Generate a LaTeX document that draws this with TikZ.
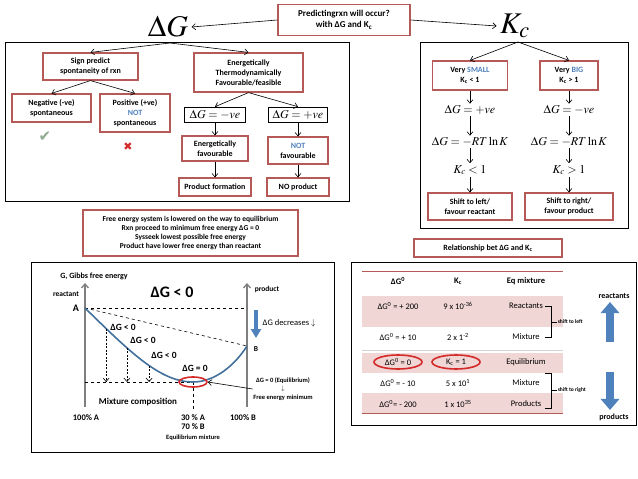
\documentclass[tikz,border=0pt]{standalone}
\usepackage{mathptmx}
\usepackage{fontspec}
\setmainfont{Carlito}
\newfontfamily\symbolfont{DejaVu Sans}
\usetikzlibrary{arrows.meta, shapes.geometric}
\definecolor{cbord}{HTML}{B65A57}
\definecolor{cpink}{HTML}{F0D6D5}
\definecolor{cblue}{HTML}{4F81BD}
\definecolor{cdarkblue}{HTML}{41719C}
\definecolor{cgrey}{HTML}{7F7F7F}
\definecolor{ctick}{HTML}{8FAA8F}
\definecolor{cred}{HTML}{D42A2A}
\newcommand{\fsz}[2]{\fontsize{#1}{#2}\selectfont}
\tikzset{
  every picture/.style={line width=0.6pt},
  box/.style={draw=cbord, fill=white, line width=1.2pt, align=center, inner sep=1pt, font=\bfseries\fsz{8}{10}},
  mbox/.style={draw=black, line width=0.6pt, inner sep=1pt, font=\fsz{12}{12}},
  mtext/.style={inner sep=1.5pt, font=\fsz{12}{12}},
  frame/.style={draw=black, line width=0.8pt},
  arrow/.style={-{Straight Barb[length=3.5pt, width=6pt]}, line width=0.6pt},
  dasharrow/.style={arrow, dash pattern=on 2pt off 1.5pt},
  axis/.style={draw=cgrey, line width=1.3pt, -{Straight Barb[length=4pt, width=7pt]}},
  note/.style={inner sep=0.5pt, align=center},
  cell/.style={inner sep=1pt, font=\fsz{8.5}{10}},
  ring/.style={ellipse, draw=cred, line width=1.6pt, inner sep=0pt},
  blockarrow/.style={draw=cblue, line width=#1, -{Triangle[width=0pt 2.3, length=0pt 1.4]}},
}

\begin{document}
\begin{tikzpicture}[x=1pt, y=-1pt]
  \fill[white] (0,0) rectangle (638,479);
  \useasboundingbox (0,0) rectangle (638,479);

  % top row
  \node[box, font=\bfseries\fsz{9}{11}, minimum width=132pt, minimum height=31pt] (pred) at (344,20) {Predictingrxn will occur?\\with ΔG and K\textsubscript{c}};
  \node[font=\fsz{30}{30}] (dg) at (168,27) {$\Delta G$};
  \node[font=\fsz{30}{30}] (kc) at (515,26) {$K_{c}$};
  \draw[arrow] (pred.west) -- (dg.east);
  \draw[arrow] (pred.east) -- (kc.west);

  % Delta G panel
  \draw[frame] (5,42) rectangle (349,201);
  \coordinate (lsplit) at (170,43);
  \node[box, minimum width=95pt, minimum height=27pt] (sign) at (90.5,66.5) {Sign predict\\spontaneity of rxn};
  \node[box, minimum width=109pt, minimum height=39pt] (energ) at (248.5,72.5) {Energetically\\Thermodynamically\\Favourable/feasible};
  \node[box, minimum width=79pt, minimum height=28pt] (neg) at (51.5,108) {Negative (-ve)\\spontaneous};
  \node[box, minimum width=70pt, minimum height=38pt] (pos) at (135,113) {Positive (+ve)\\\textcolor{cblue}{NOT}\\spontaneous};
  \node[mbox, minimum width=61pt, minimum height=15pt] (dgneg) at (215,114.5) {$\Delta G = -ve$};
  \node[mbox, minimum width=59pt, minimum height=15pt] (dgpos) at (298,114.5) {$\Delta G = +ve$};
  \node[box, minimum width=66pt, minimum height=25pt] (efav) at (215,148.5) {Energetically\\favourable};
  \node[box, minimum width=60pt, minimum height=27pt] (notfav) at (298,150.5) {\textcolor{cblue}{NOT}\\favourable};
  \node[box, minimum width=72pt, minimum height=18pt] (prodf) at (215,187) {Product formation};
  \node[box, minimum width=62pt, minimum height=18pt] (noprod) at (298,187) {NO product};
  \node[text=ctick, font=\symbolfont\fsz{15}{15}] (tick) at (45,137) {✔};
  \node[text=cred, font=\symbolfont\fsz{11}{11}] (cross) at (128,147) {✖};
  \draw[arrow] (lsplit) -- (sign.north);
  \draw[arrow] (lsplit) -- (energ.north);
  \draw[arrow] (sign.south) -- (neg.north);
  \draw[arrow] (sign.south) -- (pos.north);
  \draw[arrow] (energ.south) -- (dgneg.north);
  \draw[arrow] (energ.south) -- (dgpos.north);
  \draw[arrow] (dgneg) -- (efav);
  \draw[arrow] (efav) -- (prodf);
  \draw[arrow] (dgpos) -- (notfav);
  \draw[arrow] (notfav) -- (noprod);

  % Kc panel
  \draw[frame] (420,42) rectangle (628,228);
  \coordinate (rsplit) at (518,42);
  \node[box, minimum width=75pt, minimum height=29pt] (small) at (470,75.5) {Very \textcolor{cblue}{SMALL}\\K\textsubscript{c} < 1};
  \node[box, minimum width=58pt, minimum height=29pt] (big) at (569,75.5) {Very \textcolor{cblue}{BIG}\\K\textsubscript{c} > 1};
  \node[mtext] (sdg) at (470,110) {$\Delta G = +ve$};
  \node[mtext] (srt) at (470,142) {$\Delta G = -RT\ln K$};
  \node[mtext] (skc) at (470,170) {$K_{c} < 1$};
  \node[mtext] (bdg) at (569,110) {$\Delta G = -ve$};
  \node[mtext] (brt) at (569,142) {$\Delta G = -RT\ln K$};
  \node[mtext] (bkc) at (569,170) {$K_{c} > 1$};
  \node[box, minimum width=84pt, minimum height=27pt] (shl) at (470,206.5) {Shift to left/\\favour reactant};
  \node[box, minimum width=88pt, minimum height=27pt] (shr) at (569,206.5) {Shift to right/\\favour product};
  \draw[arrow] (rsplit) -- (small.north);
  \draw[arrow] (rsplit) -- (big.north);
  \draw[arrow] (small) -- (sdg);
  \draw[arrow] (sdg) -- (srt);
  \draw[arrow] (srt) -- (skc);
  \draw[arrow] (skc) -- (shl);
  \draw[arrow] (big) -- (bdg);
  \draw[arrow] (bdg) -- (brt);
  \draw[arrow] (brt) -- (bkc);
  \draw[arrow] (bkc) -- (shr);

  % middle notes
  \node[box, font=\bfseries\fsz{7.5}{9.2}, minimum width=215pt, minimum height=46pt] (free) at (190.5,233) {Free energy system is lowered on the way to equilibrium\\Rxn proceed to minimum free energy ΔG = 0\\Sysseek lowest possible free energy\\Product have lower free energy than reactant};
  \node[box, minimum width=148pt, minimum height=18pt] (rel) at (488,248) {Relationship bet ΔG and K\textsubscript{c}};

  % free energy graph
  \draw[frame] (31,262) rectangle (334,452);
  \coordinate (o1) at (85,407);
  \coordinate (y1) at (85,283);
  \coordinate (o2) at (247,407);
  \coordinate (y2) at (247,283);
  \coordinate (A) at (85,308);
  \coordinate (B) at (247,346);
  \coordinate (mn) at (193,382);
  \draw[axis] (o1) -- (y1);
  \draw[axis] (o2) -- (y2);
  \draw[dashed] (A) -- (A -| o2);
  \draw[dashed] (A) -- (B);
  \draw[dashed] (A |- mn) -- (mn);
  \draw[dashed] (mn) -- (mn |- 0,412);
  \draw[cdarkblue, line width=1.6pt] (A) .. controls (130,352) and (160,382) .. coordinate[pos=0.165] (c1) coordinate[pos=0.345] (c2) coordinate[pos=0.555] (c3) (mn) .. controls (215,382) and (235,365) .. (B);
  \draw[dasharrow] (c1) -- (c1 |- mn);
  \draw[dasharrow] (c2) -- (c2 |- mn);
  \draw[dasharrow] (c3) -- (c3 |- mn);
  \node[ring, minimum width=28pt, minimum height=10pt] (ell) at (mn) {};
  \node[note, font=\bfseries\fsz{8}{8}] (gtitle) at (94,276) {G, Gibbs free energy};
  \node[note, font=\bfseries\fsz{7.5}{7.5}] (reac) at (66,294) {reactant};
  \node[note, font=\bfseries\fsz{7.5}{7.5}] (prodl) at (267,289) {product};
  \node[note, font=\bfseries\fsz{16}{16}] (dgbig) at (172,292) {ΔG < 0};
  \node[note, font=\bfseries\fsz{10}{10}] (la) at (76,308) {A};
  \node[note, font=\bfseries\fsz{7.5}{7.5}] (lb) at (256,349) {B};
  \node[note, font=\bfseries\fsz{9.5}{9.5}] (d1) at (123,327) {ΔG < 0};
  \node[note, font=\bfseries\fsz{9.5}{9.5}] (d2) at (143,340) {ΔG < 0};
  \node[note, font=\bfseries\fsz{9.5}{9.5}] (d3) at (164,355) {ΔG < 0};
  \node[note, font=\bfseries\fsz{9.5}{9.5}] (d0) at (195,368) {ΔG = 0};
  \node[note, font=\bfseries\fsz{6.5}{8.5}] (eqnote) at (283,389) {ΔG = 0 (Equilibrium)\\$\downarrow$\\Free energy minimum};
  \draw[arrow] (eqnote.west) -- (ell.east);
  \coordinate (bd1) at (256,310);
  \coordinate (bd2) at (256,338);
  \draw[blockarrow=3.5pt, -{Triangle[width=10pt, length=9pt]}] (bd1) -- (bd2);
  \node[note, font=\fsz{8.5}{8.5}] (decr) at (289,323) {ΔG decreases $\downarrow$};
  \node[note, font=\bfseries\fsz{9}{9}] (mix) at (138,402) {Mixture composition};
  \node[note, font=\bfseries\fsz{8.5}{8.5}] (pa) at (86,418) {100\% A};
  \node[note, font=\bfseries\fsz{8.5}{8.5}] (pb) at (243,418) {100\% B};
  \node[note, font=\bfseries\fsz{8.5}{8.5}] (p30) at (193,418) {30 \% A};
  \node[note, font=\bfseries\fsz{8.5}{8.5}] (p70) at (193,427) {70 \% B};
  \node[note, font=\bfseries\fsz{6.5}{6.5}] (eqm) at (193,438) {Equilibrium mixture};

  % Delta G and Kc table
  \draw[frame] (351,262) rectangle (636,425);
  \fill[cpink] (362,296) rectangle (563,327);
  \fill[cpink] (362,353) rectangle (563,373);
  \fill[cpink] (362,393) rectangle (563,413);
  \draw[gray!35, line width=1pt] (362,350) -- (563,350);
  \draw[cbord, line width=0.8pt] (362,271) -- (563,271);
  \draw[cbord, line width=0.8pt] (362,413) -- (563,413);
  \node[cell, font=\bfseries\fsz{8.5}{10}] (h1) at (398,281) {ΔG\textsuperscript{0}};
  \node[cell, font=\bfseries\fsz{8.5}{10}] (h2) at (458,281) {K\textsubscript{c}};
  \node[cell, font=\bfseries\fsz{8.5}{10}] (h3) at (526,281) {Eq mixture};
  \node[cell] (a1) at (398,306) {ΔG\textsuperscript{0} = + 200};
  \node[cell] (b1) at (458,306) {9 x 10\textsuperscript{-36}};
  \node[cell] (e1) at (526,306) {Reactants};
  \node[cell] (a2) at (398,337) {ΔG\textsuperscript{0} = + 10};
  \node[cell] (b2) at (458,337) {2 x 1\textsuperscript{-2}};
  \node[cell] (e2) at (526,337) {Mixture};
  \node[cell, ring, minimum width=48pt, minimum height=14pt] (a3) at (398,362) {ΔG\textsuperscript{0} = 0};
  \node[cell, ring, minimum width=48pt, minimum height=14pt] (b3) at (456,362) {K\textsubscript{c} = 1};
  \node[cell] (e3) at (526,362) {Equilibrium};
  \node[cell] (a4) at (398,383) {ΔG\textsuperscript{0} = - 10};
  \node[cell] (b4) at (458,383) {5 x 10\textsuperscript{1}};
  \node[cell] (e4) at (526,383) {Mixture};
  \node[cell] (a5) at (398,404) {ΔG\textsuperscript{0}= - 200};
  \node[cell] (b5) at (458,404) {1 x 10\textsuperscript{35}};
  \node[cell] (e5) at (526,404) {Products};
  \node[note, font=\bfseries\fsz{5.5}{5.5}, anchor=west] (sleft) at (557,322) {shift to left};
  \node[note, font=\bfseries\fsz{5.5}{5.5}, anchor=west] (sright) at (557,390) {shift to right};
  \draw (545,306) -| (551,337) -- (545,337) (551,322) -- (sleft.west);
  \draw (545,373) -| (551,408) -- (545,408) (551,390) -- (sright.west);
  \node[note, font=\bfseries\fsz{8}{8}] (rlab) at (614,296) {reactants};
  \node[note, font=\bfseries\fsz{8}{8}] (plab) at (614,417) {products};
  \coordinate (up1) at (610,342);
  \coordinate (up2) at (610,302);
  \coordinate (dn1) at (610,372);
  \coordinate (dn2) at (610,410);
  \draw[blockarrow=8pt] (up1) -- (up2);
  \draw[blockarrow=8pt] (dn1) -- (dn2);
\end{tikzpicture}
\end{document}
